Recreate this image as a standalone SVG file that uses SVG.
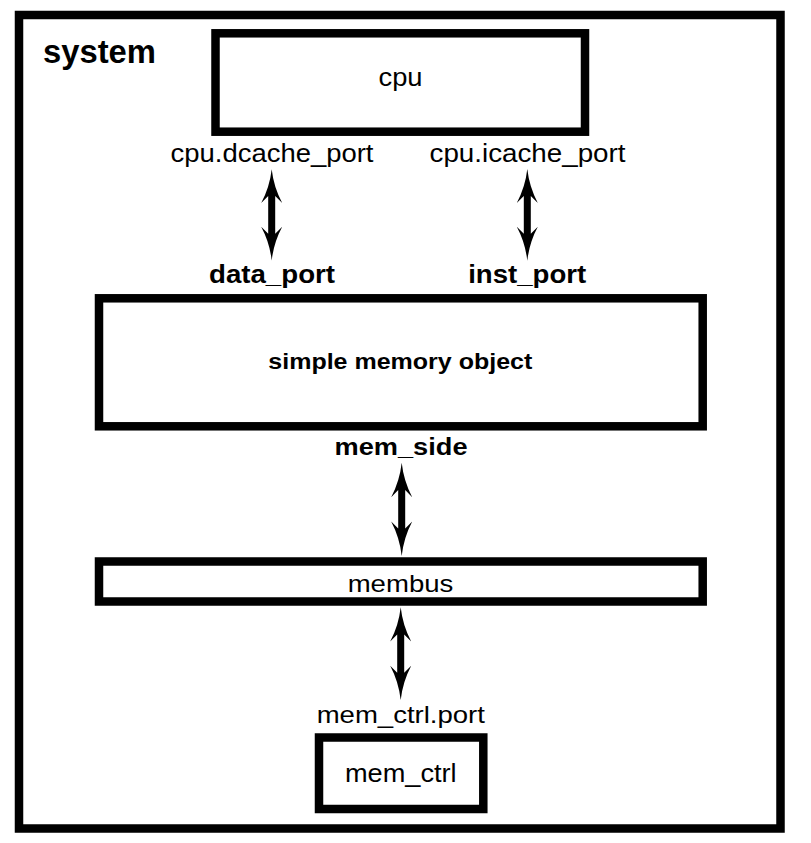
<svg xmlns="http://www.w3.org/2000/svg" xmlns:xlink="http://www.w3.org/1999/xlink" width="811" height="843" viewBox="0 0 811 843">
<style>
.box{fill:#fff;stroke:#000;stroke-width:8.5}
.t{font-family:"Liberation Sans",Arial,sans-serif;fill:#000;text-anchor:middle}
.b{font-weight:bold}
.arr{fill:#000;stroke:none}
</style>
<defs>
<path id="dbl" d="M0,0 Q2,18 10.5,34 L3.5,27 L3.5,65 L10.5,58 Q2,74 0,92 Q-2,74 -10.5,58 L-3.5,65 L-3.5,27 L-10.5,34 Q-2,18 0,0 Z"/>
</defs>
<rect width="811" height="843" fill="#fff"/>
<g id="system">
<rect class="box" x="19" y="15" width="761.5" height="813.5"/>
<text class="t b" x="43" y="63" font-size="33" text-anchor="start" style="text-anchor:start" textLength="113" lengthAdjust="spacingAndGlyphs">system</text>
</g>
<g id="cpu">
<rect class="box" x="215.5" y="33.3" width="369.5" height="98.4"/>
<text class="t" x="400.5" y="86" font-size="25" textLength="44" lengthAdjust="spacingAndGlyphs">cpu</text>
<text class="t" x="272" y="162" font-size="25" textLength="203" lengthAdjust="spacingAndGlyphs">cpu.dcache_port</text>
<text class="t" x="527.5" y="162" font-size="25" textLength="196" lengthAdjust="spacingAndGlyphs">cpu.icache_port</text>
</g>
<g id="simple_memory_object">
<rect class="box" x="99" y="298.3" width="603.7" height="128"/>
<text class="t b" x="272" y="283.3" font-size="25" textLength="126" lengthAdjust="spacingAndGlyphs">data_port</text>
<text class="t b" x="527.2" y="283.3" font-size="25" textLength="118" lengthAdjust="spacingAndGlyphs">inst_port</text>
<text class="t b" x="400.3" y="369.3" font-size="21.5" textLength="264" lengthAdjust="spacingAndGlyphs">simple memory object</text>
<text class="t b" x="401" y="454.5" font-size="23.5" textLength="133" lengthAdjust="spacingAndGlyphs">mem_side</text>
</g>
<g id="membus">
<rect class="box" x="99" y="561.5" width="603.7" height="40"/>
<text class="t" x="400.5" y="591.5" font-size="24" textLength="105.7" lengthAdjust="spacingAndGlyphs">membus</text>
</g>
<g id="mem_ctrl">
<rect class="box" x="319" y="737.5" width="164.3" height="71.5"/>
<text class="t" x="400.8" y="723.3" font-size="24" textLength="168.3" lengthAdjust="spacingAndGlyphs">mem_ctrl.port</text>
<text class="t" x="400.8" y="781.7" font-size="25" textLength="111.7" lengthAdjust="spacingAndGlyphs">mem_ctrl</text>
</g>
<g id="connectors" class="arr">
<use xlink:href="#dbl" href="#dbl" transform="translate(271.7,169.2) scale(1,0.992)"/>
<use xlink:href="#dbl" href="#dbl" transform="translate(527.3,169) scale(1,0.997)"/>
<use xlink:href="#dbl" href="#dbl" transform="translate(401.7,462.7) scale(1,1.014)"/>
<use xlink:href="#dbl" href="#dbl" transform="translate(400.7,607.3) scale(1,1.008)"/>
</g>
</svg>
